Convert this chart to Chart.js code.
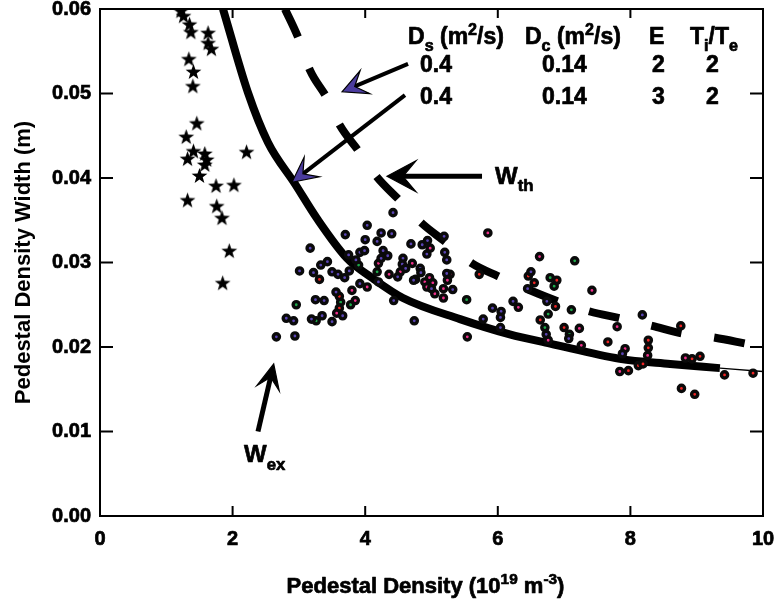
<!DOCTYPE html>
<html><head><meta charset="utf-8">
<script src="https://cdn.jsdelivr.net/npm/chart.js@4"></script>
<style>html,body{margin:0;padding:0;background:#fff;}#wrap{width:777px;height:604px;}</style>
</head><body><div id="wrap"><canvas id="c" width="777" height="604"></canvas></div>
<script>
// ---------- data ----------
const xTicks = [0, 2, 4, 6, 8, 10];
const yTicks = [0, 0.01, 0.02, 0.03, 0.04, 0.05, 0.06];
const xTitleParts = [{t:'Pedestal Density (10'},{t:'19',sup:1},{t:' m'},{t:'-3',sup:1},{t:')'}];
const yTitle = 'Pedestal Density Width (m)';

const purpleX = [4.42,4.03,3.70,4.24,4.40,4.00,4.18,4.69,3.17,3.75,3.92,3.99,4.27,4.34,3.86,4.24,4.57,3.33,3.43,4.56,3.01,3.22,3.50,3.59,3.76,3.69,4.49,4.61,4.73,3.92,4.20,3.56,3.25,3.38,3.66,3.35,3.19,2.81,2.92,3.50,4.43,4.74,2.66,2.94,5.19,4.86,4.94,4.93,5.20,5.23,4.83,4.84,5.23,5.00,5.32,6.50,6.45,6.23,6.74,5.92,6.05,6.04,5.78,6.04,6.73,7.07,8.18,7.88];
const purpleY = [0.0359,0.0344,0.0333,0.0335,0.0334,0.0327,0.0325,0.0322,0.0317,0.0309,0.0312,0.0314,0.0314,0.0308,0.0303,0.0305,0.0305,0.0297,0.0301,0.0298,0.0290,0.0288,0.0289,0.0286,0.0290,0.0282,0.0283,0.0293,0.0279,0.0275,0.0277,0.0265,0.0256,0.0255,0.0237,0.0237,0.0233,0.0234,0.0231,0.0230,0.0255,0.0231,0.0212,0.0213,0.0331,0.0321,0.0326,0.0310,0.0312,0.0303,0.0293,0.0288,0.0287,0.0269,0.0268,0.0289,0.0269,0.0254,0.0254,0.0246,0.0242,0.0235,0.0233,0.0223,0.0215,0.0210,0.0238,0.0192];
const pinkX = [4.20,4.71,4.36,4.53,4.76,4.03,3.80,3.85,3.57,5.85,4.98,5.28,5.24,4.90,4.97,5.02,4.93,5.05,5.18,5.18,6.63,6.31,6.76,5.54,7.42,7.80,7.23,7.26,7.92,8.26,8.83,7.84];
const pinkY = [0.0299,0.0299,0.0286,0.0289,0.0280,0.0271,0.0267,0.0255,0.0240,0.0335,0.0317,0.0286,0.0279,0.0277,0.0282,0.0276,0.0271,0.0263,0.0269,0.0258,0.0307,0.0247,0.0208,0.0212,0.0267,0.0224,0.0222,0.0202,0.0198,0.0190,0.0187,0.0171];
const redX = [3.31,3.61,3.61,5.72,6.46,6.55,6.89,6.87,6.64,7.00,7.66,8.27,8.27,8.76,8.93,9.05,8.12,8.19,7.97,9.42,9.85,8.77,8.97];
const redY = [0.0280,0.0260,0.0246,0.0286,0.0284,0.0276,0.0279,0.0248,0.0232,0.0223,0.0206,0.0208,0.0199,0.0225,0.0186,0.0189,0.0178,0.0180,0.0172,0.0167,0.0169,0.0151,0.0144];
const greenX = [3.90,4.18,3.63,3.78,2.96,3.26,5.53,7.16,6.79,6.85,7.11,6.76,6.71,7.08];
const greenY = [0.0297,0.0289,0.0253,0.0250,0.0250,0.0231,0.0256,0.0302,0.0282,0.0272,0.0244,0.0239,0.0223,0.0215];
const starX = [1.22,1.26,1.35,1.37,1.63,1.63,1.68,1.34,1.41,1.40,1.46,1.30,1.41,1.32,1.58,1.61,1.58,2.21,1.50,1.75,2.02,1.32,1.76,1.84,1.95,1.85];
const starY = [0.0598,0.0592,0.0582,0.0573,0.0572,0.0560,0.0553,0.0541,0.0526,0.0509,0.0465,0.0449,0.0432,0.0423,0.0429,0.0422,0.0416,0.0431,0.0403,0.0391,0.0392,0.0374,0.0367,0.0353,0.0314,0.0276];

// model curves
const solidX = [1.855,2.232,2.534,2.941,3.273,3.725,4.118,4.57,5.43,6.18,6.79,7.84,8.6,9.35];
const solidY = [0.0600,0.0501,0.0442,0.0393,0.0352,0.0305,0.0281,0.0258,0.0233,0.0215,0.0204,0.0186,0.0180,0.0175];
const thinX = [9.35,10.0];
const thinY = [0.0175,0.0171];
const dashX = [2.79,2.99,3.17,3.42,3.62,3.89,4.18,4.50,4.86,5.20,5.61,6.00,6.46,6.91,7.39,7.84,8.33,8.79,9.28,9.74];
const dashY = [0.0600,0.0566,0.0527,0.0495,0.0462,0.0433,0.0401,0.0375,0.0346,0.0325,0.0299,0.0284,0.0268,0.0254,0.0242,0.0234,0.0225,0.0216,0.0211,0.0204];

// legend table
const colHeaders = [
  [{t:'D'},{t:'s',sub:1},{t:' (m'},{t:'2',sup:1},{t:'/s)'}],
  [{t:'D'},{t:'c',sub:1},{t:' (m'},{t:'2',sup:1},{t:'/s)'}],
  [{t:'E'}],
  [{t:'T'},{t:'i',sub:1},{t:'/T'},{t:'e',sub:1}]
];
const tableRows = [['0.4','0.14','2','2'],['0.4','0.14','3','2']];

// ---------- helpers ----------
const FONT = '"Liberation Sans", Arial, Helvetica, sans-serif';
const pts = (xs, ys) => xs.map((v, i) => ({x: v, y: ys[i]}));
function starImg(R, r) {
  const s = Math.ceil(2 * R + 2);
  const c = document.createElement('canvas'); c.width = c.height = s;
  const g = c.getContext('2d'); g.translate(s / 2, s / 2 + 0.7);
  g.beginPath();
  for (let i = 0; i < 10; i++) {
    const a = -Math.PI / 2 + i * Math.PI / 5, rr = i % 2 ? r : R;
    g.lineTo(rr * Math.cos(a), rr * Math.sin(a));
  }
  g.closePath(); g.fillStyle = '#000'; g.fill();
  return c;
}
const dot = (label, xs, ys, col) => ({
  label, data: pts(xs, ys), pointStyle: 'circle', pointRadius: 3.1, pointBorderWidth: 3.4,
  pointBackgroundColor: col, pointBorderColor: '#0a0a0a', showLine: false, order: 1
});
function richWidth(ctx, parts, size) {
  let w = 0;
  for (const p of parts) {
    const fs = (p.sub || p.sup) ? size * 0.7 : size;
    ctx.font = `bold ${fs}px ${FONT}`; w += ctx.measureText(p.t).width;
  }
  return w;
}
function drawRich(ctx, x, y, parts, size) {
  let cx = x;
  ctx.textAlign = 'left'; ctx.textBaseline = 'alphabetic';
  ctx.strokeStyle = '#000'; ctx.lineWidth = 0.7; ctx.lineJoin = 'round';
  for (const p of parts) {
    let fs = size, dy = 0;
    if (p.sub) { fs = size * 0.7; dy = size * 0.3; }
    if (p.sup) { fs = size * 0.7; dy = -size * 0.42; }
    ctx.font = `bold ${fs}px ${FONT}`;
    ctx.fillText(p.t, cx, y + dy);
    ctx.strokeText(p.t, cx, y + dy);
    cx += ctx.measureText(p.t).width;
  }
}
function arrow(ctx, x1, y1, x2, y2, o) {
  const dx = x2 - x1, dy = y2 - y1, L = Math.hypot(dx, dy);
  const ux = dx / L, uy = dy / L, px = -uy, py = ux;
  const bx = x2 - ux * o.len * 0.55, by = y2 - uy * o.len * 0.55;
  ctx.beginPath(); ctx.moveTo(x1, y1); ctx.lineTo(bx, by);
  ctx.lineWidth = o.lw; ctx.strokeStyle = '#000'; ctx.lineCap = 'butt'; ctx.stroke();
  ctx.beginPath();
  ctx.moveTo(x2, y2);
  ctx.lineTo(x2 - ux * o.len + px * o.w / 2, y2 - uy * o.len + py * o.w / 2);
  ctx.lineTo(bx, by);
  ctx.lineTo(x2 - ux * o.len - px * o.w / 2, y2 - uy * o.len - py * o.w / 2);
  ctx.closePath();
  ctx.fillStyle = o.fill; ctx.fill();
  ctx.lineWidth = 1.2; ctx.strokeStyle = '#000'; ctx.lineJoin = 'miter'; ctx.stroke();
}

const annot = {
  id: 'annot',
  afterDatasetsDraw(chart) {
    const {ctx, chartArea: a, scales: {x, y}} = chart;
    const X = v => x.getPixelForValue(v), Y = v => y.getPixelForValue(v);
    ctx.save();
    // frame and inward ticks
    ctx.strokeStyle = '#000'; ctx.lineWidth = 2; ctx.lineCap = 'butt';
    ctx.strokeRect(a.left, a.top, a.right - a.left, a.bottom - a.top);
    ctx.beginPath();
    x.ticks.forEach(t => { const p = X(t.value); ctx.moveTo(p, a.bottom); ctx.lineTo(p, a.bottom - 10); ctx.moveTo(p, a.top); ctx.lineTo(p, a.top + 9); });
    y.ticks.forEach(t => { const p = Y(t.value); ctx.moveTo(a.left, p); ctx.lineTo(a.left + 13, p); ctx.moveTo(a.right, p); ctx.lineTo(a.right - 13, p); });
    ctx.stroke();

    // arrows
    const purple = '#4b3c9e';
    arrow(ctx, X(4.646), Y(0.0535), X(3.65), Y(0.0502), {lw: 4, len: 25, w: 25, fill: purple});
    arrow(ctx, X(4.60), Y(0.0498), X(2.896), Y(0.0395), {lw: 4, len: 25, w: 25, fill: purple});
    arrow(ctx, X(5.762), Y(0.0402), X(4.329), Y(0.0402), {lw: 5, len: 29, w: 31, fill: '#000'});
    arrow(ctx, X(2.383), Y(0.0100), X(2.62), Y(0.0180), {lw: 5, len: 25, w: 23, fill: '#000'});

    // labels
    ctx.fillStyle = '#000';
    drawRich(ctx, X(5.958), Y(0.0393), [{t:'W'},{t:'th',sub:1}], 24);
    drawRich(ctx, X(2.172), Y(0.00635), [{t:'W'},{t:'ex',sub:1}], 24);

    // parameter table
    const hx = [4.646, 6.410, 8.281, 8.899];
    colHeaders.forEach((h, i) => drawRich(ctx, X(hx[i]), Y(0.0558), h, 23));
    const vx = [4.827, 6.667, 8.326, 9.140];
    const ry = [0.0525, 0.0487];
    tableRows.forEach((r, j) => r.forEach((v, i) => drawRich(ctx, X(vx[i]), Y(ry[j]), [{t: v}], 23)));

    // x axis title
    const tw = richWidth(ctx, xTitleParts, 22);
    drawRich(ctx, (a.left + a.right) / 2 - 6 - tw / 2, a.bottom + 77, xTitleParts, 22);
    ctx.restore();
  }
};

Chart.defaults.font.family = FONT;
Chart.defaults.color = '#000';

new Chart(document.getElementById('c'), {
  type: 'scatter',
  data: {
    datasets: [
      dot('purple', purpleX, purpleY, '#5a44b4'),
      dot('pink', pinkX, pinkY, '#f0308c'),
      dot('red', redX, redY, '#f02424'),
      dot('green', greenX, greenY, '#1ea84a'),
      {label: 'stars', data: pts(starX, starY), pointStyle: starImg(8.3, 3.4), pointRadius: 8, showLine: false, order: 1},
      {label: 'W solid', data: pts(solidX, solidY), showLine: true, pointRadius: 0, borderColor: '#000', borderWidth: 8,
       cubicInterpolationMode: 'monotone', borderCapStyle: 'butt', clip: 0, order: 5},
      {label: 'W thin', data: pts(thinX, thinY), showLine: true, pointRadius: 0, borderColor: '#000', borderWidth: 1.5, clip: 0, order: 5},
      {label: 'W dashed', data: pts(dashX, dashY), showLine: true, pointRadius: 0, borderColor: '#000', borderWidth: 8,
       borderDash: [31, 33], borderCapStyle: 'butt', cubicInterpolationMode: 'monotone', clip: 0, order: 5}
    ]
  },
  options: {
    responsive: false, animation: false, devicePixelRatio: 1,
    layout: {padding: {top: 6, right: 14, left: 0, bottom: 0}},
    plugins: {legend: {display: false}, tooltip: {enabled: false}},
    events: [],
    scales: {
      x: {
        type: 'linear', min: 0, max: 10,
        afterBuildTicks: s => { s.ticks = xTicks.map(v => ({value: v})); },
        afterFit: s => { s.height = 88; s.paddingLeft = 0; s.paddingRight = 0; },
        grid: {display: false, drawTicks: false}, border: {display: false},
        ticks: {font: {size: 20, weight: 'bold'}, color: '#000', padding: 11, maxRotation: 0, autoSkip: false,
                textStrokeColor: '#000', textStrokeWidth: 0.7, callback: v => String(v)}
      },
      y: {
        type: 'linear', min: 0, max: 0.06,
        afterBuildTicks: s => { s.ticks = yTicks.map(v => ({value: v})); },
        afterFit: s => { s.width = 100; s.paddingTop = 0; s.paddingBottom = 0; },
        grid: {display: false, drawTicks: false}, border: {display: false},
        ticks: {font: {size: 20, weight: 'bold'}, color: '#000', padding: 9, autoSkip: false,
                textStrokeColor: '#000', textStrokeWidth: 0.7, callback: v => Number(v).toFixed(2)},
        title: {display: true, text: yTitle, font: {size: 22, weight: 'bold'}, color: '#000', padding: {top: 11, bottom: 0}}
      }
    }
  },
  plugins: [annot]
});
</script>
</body></html>
